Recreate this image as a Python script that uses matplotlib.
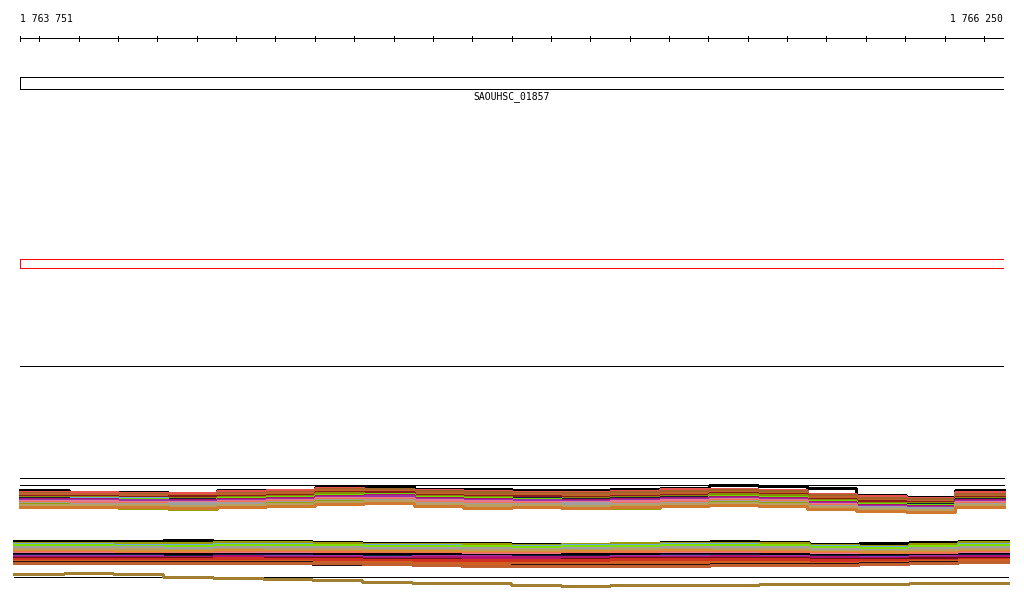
import numpy as np
import matplotlib
matplotlib.use("Agg")
import matplotlib.pyplot as plt
from matplotlib.patches import Rectangle

# region shown
START = 1763751
END = 1766250
GENE = "SAOUHSC_01857"
TICKS = list(range(1763800, 1766201, 100))

# coverage tracks, upper group: (colour, pixel row per 125 bp bin)
G1_FLAT = [478, 485]
G1_TRACKS = [
    ("#000000", [490, 493, 492, 493, 490, 490, 487, 486, 489, 489, 490, 490, 489, 488, 485, 486, 488, 495, 497, 490]),
    ("#e85050", [492, 492, 493, 493, 491, 490, 488, 489, 490, 491, 492, 492, 491, 489, 489, 490, 494, 496, 498, 492]),
    ("#a0642a", [493, 494, 494, 495, 493, 492, 489, 489, 491, 492, 493, 493, 492, 491, 490, 491, 495, 498, 499, 494]),
    ("#c0602a", [494, 494, 495, 495, 494, 493, 490, 491, 493, 495, 494, 495, 494, 493, 492, 493, 497, 500, 501, 496]),
    ("#8b1a1a", [496, 496, 497, 496, 496, 495, 492, 492, 495, 496, 496, 497, 496, 495, 493, 494, 499, 501, 502, 497]),
    ("#8a8a00", [497, 497, 498, 498, 497, 496, 493, 494, 496, 497, 498, 498, 497, 496, 494, 495, 500, 503, 503, 498]),
    ("#6aaee0", [498, 498, 498, 499, 498, 497, 496, 495, 498, 499, 499, 499, 499, 498, 497, 498, 502, 505, 506, 499]),
    ("#102040", [498, 499, 499, 499, 498, 497, 495, 495, 497, 498, 498, 499, 498, 497, 496, 497, 501, 504, 504, 499]),
    ("#66dd00", [499, 500, 499, 500, 498, 497, 495, 494, 497, 498, 499, 500, 499, 498, 496, 497, 501, 504, 505, 500]),
    ("#b0106a", [499, 499, 500, 500, 499, 498, 496, 495, 498, 499, 500, 500, 499, 498, 497, 498, 502, 505, 506, 500]),
    ("#9933aa", [500, 500, 500, 501, 500, 499, 497, 496, 499, 500, 500, 501, 500, 499, 498, 499, 503, 506, 507, 501]),
    ("#e87890", [501, 501, 502, 502, 501, 500, 498, 498, 500, 501, 502, 502, 501, 500, 499, 500, 504, 507, 508, 502]),
    ("#f07050", [502, 503, 503, 504, 502, 501, 499, 499, 502, 503, 503, 504, 503, 502, 500, 501, 505, 508, 509, 503]),
    ("#a0a0a0", [503, 504, 504, 503, 503, 502, 500, 500, 503, 504, 504, 503, 504, 503, 501, 502, 506, 507, 508, 504]),
    ("#90a000", [504, 505, 508, 509, 505, 503, 501, 501, 504, 506, 505, 506, 508, 505, 502, 503, 508, 510, 511, 506]),
    ("#b8a060", [505, 505, 505, 506, 505, 504, 502, 501, 504, 505, 505, 506, 505, 504, 503, 504, 507, 509, 510, 505]),
    ("#d07a30", [507, 507, 507, 508, 507, 506, 504, 503, 506, 508, 507, 508, 507, 506, 505, 506, 509, 511, 512, 507]),
]

# lower group, drawn a little wider than the ruler
G2_START = 1763736
G2_END = 1766261
G2_FLAT = [577]
G2_TRACKS = [
    ("#000000", [541, 541, 541, 540, 541, 541, 542, 543, 543, 543, 544, 544, 543, 542, 541, 542, 544, 543, 542, 541]),
    ("#9a9a00", [543, 543, 543, 543, 542, 542, 543, 544, 544, 544, 545, 544, 543, 543, 543, 543, 545, 546, 544, 542]),
    ("#6aaee0", [544, 544, 545, 545, 544, 544, 545, 545, 545, 546, 546, 545, 545, 544, 544, 545, 546, 547, 546, 544]),
    ("#7de000", [545, 545, 546, 546, 545, 545, 545, 546, 546, 546, 547, 546, 546, 545, 545, 545, 547, 548, 546, 545]),
    ("#a0a0a0", [547, 547, 547, 548, 547, 547, 547, 548, 548, 548, 549, 548, 548, 547, 547, 547, 549, 550, 548, 547]),
    ("#b8a060", [549, 549, 549, 550, 549, 549, 549, 550, 550, 550, 550, 550, 549, 549, 549, 549, 551, 551, 550, 549]),
    ("#d89030", [551, 551, 551, 551, 550, 551, 551, 551, 551, 552, 552, 551, 551, 550, 551, 551, 552, 552, 552, 551]),
    ("#f07050", [552, 552, 553, 553, 552, 552, 552, 553, 553, 553, 553, 553, 552, 552, 552, 552, 553, 554, 553, 552]),
    ("#e87890", [553, 553, 554, 554, 553, 553, 554, 554, 555, 554, 554, 554, 554, 553, 553, 554, 554, 555, 555, 553]),
    ("#000000", [554, 554, 554, 554, 554, 554, 554, 554, 554, 555, 555, 554, 554, 554, 554, 554, 555, 555, 555, 554]),
    ("#102040", [555, 555, 555, 556, 555, 555, 556, 556, 556, 556, 556, 556, 556, 555, 555, 556, 556, 556, 556, 555]),
    ("#9933aa", [556, 556, 556, 557, 556, 556, 556, 557, 556, 556, 557, 557, 556, 556, 556, 556, 557, 557, 556, 556]),
    ("#b01070", [557, 557, 557, 557, 556, 557, 557, 558, 557, 557, 557, 557, 557, 557, 556, 557, 557, 558, 557, 556]),
    ("#6a1010", [558, 558, 558, 558, 558, 558, 558, 559, 559, 560, 560, 559, 558, 558, 558, 558, 559, 559, 558, 558]),
    ("#d03020", [559, 559, 559, 559, 558, 559, 559, 560, 560, 560, 560, 560, 559, 559, 559, 559, 560, 560, 560, 559]),
    ("#d06020", [561, 561, 561, 561, 561, 561, 562, 562, 563, 563, 563, 563, 562, 562, 562, 562, 563, 562, 561, 560]),
    ("#2a1010", [562, 562, 562, 562, 562, 562, 564, 564, 565, 566, 565, 565, 565, 565, 564, 564, 564, 563, 562, 562]),
    ("#c06030", [563, 563, 563, 563, 563, 563, 563, 564, 565, 566, 566, 566, 566, 566, 565, 565, 565, 564, 563, 562]),
    ("#a08030", [574, 573, 574, 577, 578, 579, 580, 582, 583, 583, 585, 586, 585, 585, 585, 584, 584, 584, 583, 583]),
]

fig = plt.figure(figsize=(10.24, 6.11), dpi=100)
ax = fig.add_axes([20 / 1024, 0, 984 / 1024, 1])
ax.set_xlim(START, END + 1)
ax.set_ylim(611, 0)
ax.axis("off")

mono = dict(family="DejaVu Sans Mono", fontsize=7, color="black")
thin = dict(lw=0.72, antialiased=False)

# ruler
ax.plot([START, END + 1], [38, 38], color="black", **thin)
for t in [START] + TICKS + [END + 1]:
    ax.plot([t, t], [35.5, 41], color="black", **thin)
ax.text(START, 19, f"{START:,}".replace(",", " "), ha="left", va="center", **mono)
ax.text(END + 1 - 3, 19, f"{END:,}".replace(",", " "), ha="right", va="center", **mono)

# gene + selection boxes
ax.add_patch(Rectangle((START, 76.5), END + 1 - START, 12.5, fill=False,
                       ec="black", **thin))
ax.text((START + END) / 2, 97, GENE, ha="center", va="center", **mono)
ax.add_patch(Rectangle((START, 258.5), END + 1 - START, 9.5, fill=False,
                       ec="#ff0000", **thin))
ax.plot([START, END + 1], [366, 366], color="black", **thin)


def draw_group(x0, x1, flat, tracks):
    for y in flat:
        ax.plot([x0, x1], [y, y], color="black", clip_on=False, **thin)
    for col, ys in tracks:
        edges = np.linspace(x0, x1, len(ys) + 1)
        ax.step(edges, ys + [ys[-1]], where="post", color=col, lw=0.9,
                antialiased=False, clip_on=False)


draw_group(START, END + 1, G1_FLAT, G1_TRACKS)
draw_group(G2_START, G2_END, G2_FLAT, G2_TRACKS)

fig.savefig("out.png", dpi=100, facecolor="white")
